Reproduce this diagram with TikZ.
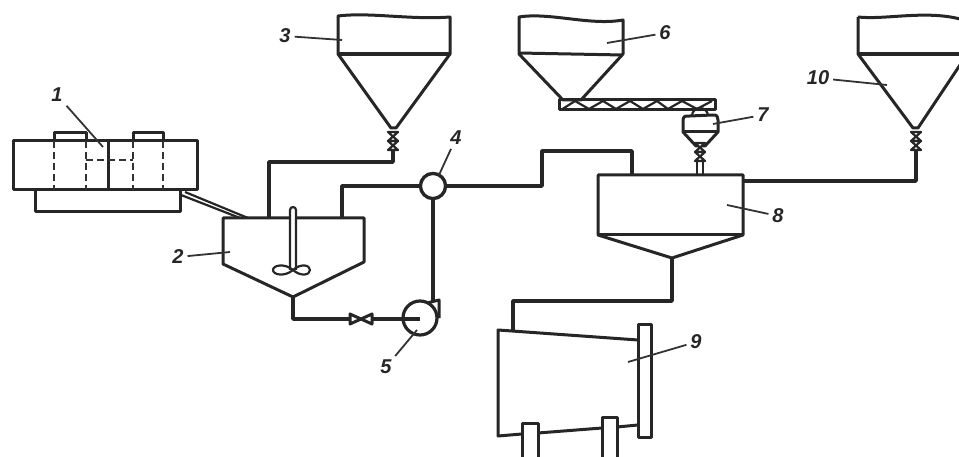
\documentclass[tikz,border=0pt]{standalone}
\usepackage{fontspec}
\setmainfont{Liberation Sans}
\usepackage{tikz}

\tikzset{
  plant/.style={black!85, line join=round},
  wall/.style={plant, line width=3pt},
  pipe/.style={plant, line width=3.6pt},
  slim/.style={plant, line width=2.2pt},
  leader/.style={line width=1.8pt, black!80},
  hidden/.style={line width=2.6pt, dash pattern=on 7pt off 4pt, black!80},
  num/.style={font=\fontsize{20}{20}\selectfont\itshape\bfseries, inner sep=0pt, outer sep=4pt, text=black!85},
  joint/.style={circle, draw=black!85, fill=white, line width=3.2pt, inner sep=0pt, outer sep=0pt, minimum size=#1},
  valve/.pic={
    \draw[slim, fill=white] (-5,-9) -- (5,-9) -- (-5,0) -- (5,0) -- cycle;
    \draw[slim, fill=white] (-5,9) -- (5,9) -- (-5,0) -- (5,0) -- cycle;
  },
  valveh/.pic={
    \draw[wall, fill=white] (-11,-5) -- (-11,5) -- (0,0) -- cycle;
    \draw[wall, fill=white] (11,-5) -- (11,5) -- (0,0) -- cycle;
  }
}

\begin{document}
\begin{tikzpicture}[x=1pt, y=-1pt]
  \useasboundingbox (0,0) rectangle (959,457);

  % tank 1
  \draw[wall] (13,141) rectangle (197,190);
  \draw[wall] (35,190) -- (35,212) -- (180,212) -- (180,190);
  \draw[wall] (108,141) -- (108,190);
  \draw[wall] (54,141) -- (54,133) -- (86,133) -- (86,141);
  \draw[wall] (133,141) -- (133,133) -- (163,133) -- (163,141);
  \foreach \hx in {54,86,133,163}
    \draw[hidden] (\hx,141) -- (\hx,190);
  \draw[hidden] (86,160) -- (133,160);

  % mixer 2
  \draw[wall] (223,218) -- (364,218) -- (364,262) -- (293,297) -- (223,264) -- cycle;
  \coordinate (feedA) at (185,192);
  \coordinate (feedB) at (181,195);
  \coordinate (mixA) at (248,218);
  \coordinate (mixB) at (240,218);
  \draw[slim] (feedA) -- (mixA);
  \draw[slim] (feedB) -- (mixB);
  \draw[slim, fill=white] (290,270) -- (290,210) arc[start angle=180, end angle=360, radius=3] -- (296,270);
  \draw[slim] (293,270) .. controls (285,263) and (273,265) .. (273,270) .. controls (273,275) and (285,277) .. (293,270);
  \draw[slim] (293,270) .. controls (301,263) and (310,265) .. (310,270) .. controls (310,275) and (301,277) .. (293,270);

  % hoppers 3, 6, 10
  \draw[wall] (338,16) .. controls (370,12) and (410,20) .. (450,17) -- (450,54)
    -- (396,128) -- (391,128) -- (338,54) -- cycle;
  \draw[pipe] (338,54) -- (450,54);
  \draw[wall] (519,17) .. controls (550,12) and (590,26) .. (623,20) -- (623,54)
    -- (581,100) -- (563,100) -- (519,54) -- cycle;
  \draw[wall] (519,53) -- (623,55);
  \draw[wall] (858,17) .. controls (885,20) and (925,10) .. (960,19);
  \draw[wall] (858,17) -- (858,54) -- (913,128) -- (918,128) -- (960,65);
  \draw[pipe] (858,54) -- (960,54);

  % screw feeder
  \draw[wall] (559,100) rectangle (715,110);
  \draw[slim] (561,110) -- (575,101)
    \foreach \zx in {603,630,657,682} { -- ({\zx-14},109) -- (\zx,101) } -- (697,109) -- (712,101);

  % dosing hopper 7
  \draw[slim] (692,116) arc[start angle=180, end angle=360, radius=8];
  \draw[wall] (683,120) .. controls (684,116) .. (690,116) -- (712,115) .. controls (717,115) .. (718,120)
    -- (718,132) -- (705,146) -- (696,146) -- (683,132) -- cycle;
  \draw[wall] (683,132) -- (718,132);
  \pic at (700,152) {valve};

  % tank 8
  \draw[wall] (598,175) -- (743,175) -- (743,235) -- (672,258) -- (598,235) -- cycle;
  \draw[wall] (598,235) -- (743,235);
  \coordinate (dropA) at (697,159);
  \coordinate (dropB) at (703,159);
  \coordinate (inA) at (697,175);
  \coordinate (inB) at (703,175);
  \draw[slim] (dropA) -- (inA);
  \draw[slim] (dropB) -- (inB);

  % dryer 9
  \draw[wall] (522,434) -- (498,436) -- (498,330) -- (638,340);
  \draw[wall] (538,433) -- (602,428);
  \draw[wall] (617,427) -- (638,425);
  \draw[wall, fill=white] (638,324) rectangle (651,437);
  \draw[wall] (522,459) -- (522,423) -- (538,423) -- (538,459);
  \draw[wall] (602,459) -- (602,417) -- (617,417) -- (617,459);

  % pipes
  \node[joint=25pt] (tee) at (433,186) {};
  \node[joint=34pt] (pump) at (420,318) {};
  \coordinate (outThree) at (393,150);
  \coordinate (inMixA) at (269,218);
  \coordinate (inMixB) at (342,218);
  \coordinate (outMix) at (293,297);
  \coordinate (tapMix) at (361,319);
  \coordinate (pumpMid) at (420,319);
  \coordinate (pumpOut) at (433,301);
  \coordinate (inEight) at (632,175);
  \coordinate (outTen) at (916,150);
  \coordinate (sideEight) at (743,181);
  \coordinate (outEight) at (672,258);
  \coordinate (inNine) at (513,331);
  \draw[pipe] (outThree) -- (393,162) -- (269,162) -- (inMixA);
  \draw[pipe] (tee) -- (342,186) -- (inMixB);
  \draw[pipe] (tee) -- (542,186) -- (542,151) -- (632,151) -- (inEight);
  \draw[pipe] (tee) -- (pumpOut);
  \draw[pipe] (outMix) -- (293,319) -- (tapMix);
  \draw[pipe] (tapMix) -- (pumpMid);
  \draw[pipe] (sideEight) -- (916,181) -- (outTen);
  \draw[pipe] (outEight) -- (672,301) -- (513,301) -- (inNine);
  \node[joint=25pt] at (tee) {};
  \draw[wall] (427,303) -- (439,300) -- (439,318);
  \pic at (361,319) {valveh};
  \pic at (393,141) {valve};
  \pic at (916,141) {valve};

  % labels
  \node[num] (lab1) at (57,95) {1};
  \node[num] (lab2) at (178,257) {2};
  \node[num] (lab3) at (285,36) {3};
  \node[num] (lab4) at (456,138) {4};
  \node[num] (lab5) at (386,367) {5};
  \node[num] (lab6) at (665,33) {6};
  \node[num] (lab7) at (763,115) {7};
  \node[num] (lab8) at (778,216) {8};
  \node[num] (lab9) at (696,342) {9};
  \node[num] (lab10) at (818,78) {10};
  \foreach \lab/\px/\py in {1/103/147, 2/230/252, 3/342/40, 4/439/175, 5/417/330,
      6/607/43, 7/713/124, 8/727/205, 9/628/362, 10/887/85} {
    \coordinate (tip\lab) at (\px,\py);
    \draw[leader] (lab\lab) -- (tip\lab);
  }
\end{tikzpicture}
\end{document}
